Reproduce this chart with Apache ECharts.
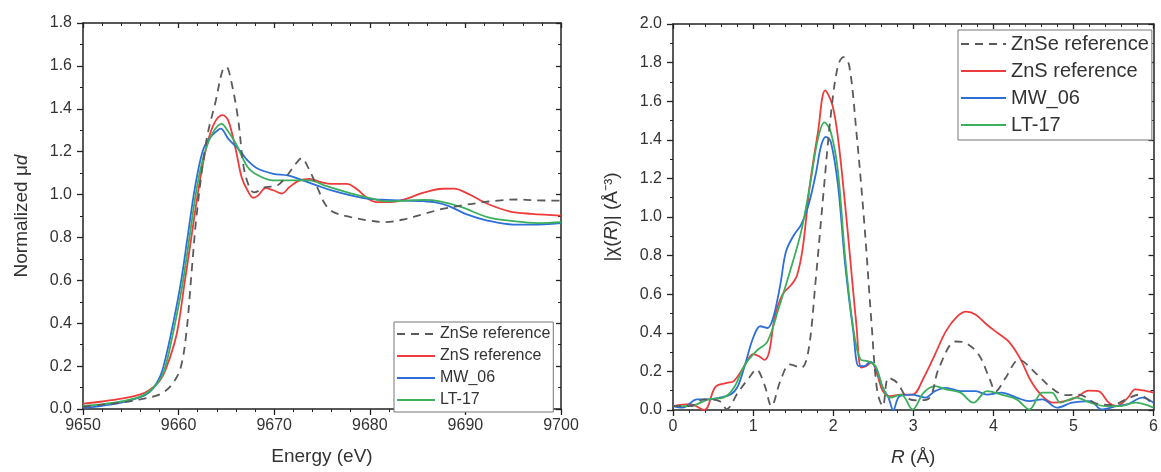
<!DOCTYPE html>
<html><head><meta charset="utf-8">
<script src="https://cdn.jsdelivr.net/npm/echarts@6/dist/echarts.min.js"></script>
<style>html,body{margin:0;padding:0;background:#fff}#c{width:1161px;height:472px}</style>
</head><body><div id="c"></div>
<script>
const seriesNames = ['ZnSe reference','ZnS reference','MW_06','LT-17'];
const seriesColors = ['#5a5a5a','#EE3B3B','#2D6FD8','#3BAF5C'];

// XANES: [Energy (eV), normalized mu d]
const xanesZnSe = [[9650,0.01],[9652,0.02],[9654,0.03],[9656,0.045],[9657.5,0.06],[9658.5,0.08],[9659.4,0.12],[9660.2,0.19],[9660.8,0.35],[9661.4,0.66],[9661.9,0.91],[9662.9,1.25],[9663.9,1.44],[9664.6,1.58],[9665.0,1.595],[9665.4,1.55],[9666.2,1.36],[9666.8,1.13],[9667.4,1.035],[9667.9,1.01],[9669.1,1.035],[9670.2,1.04],[9671.2,1.08],[9672.2,1.14],[9672.9,1.17],[9673.5,1.13],[9674.5,1.035],[9675.3,0.957],[9676.2,0.918],[9678,0.895],[9679.9,0.879],[9681.6,0.871],[9683.8,0.887],[9685.7,0.91],[9687.6,0.933],[9689.6,0.949],[9691.5,0.962],[9693.4,0.972],[9695.4,0.977],[9697.3,0.973],[9700,0.972]];
const xanesZnS = [[9650,0.025],[9652,0.035],[9654,0.048],[9656,0.068],[9657,0.09],[9658,0.13],[9658.7,0.19],[9659.8,0.35],[9660.6,0.58],[9661.4,0.82],[9662.1,1.03],[9662.9,1.22],[9663.7,1.33],[9664.6,1.37],[9665.2,1.345],[9666,1.205],[9666.6,1.08],[9667.2,1.02],[9667.8,0.985],[9668.3,0.995],[9669.1,1.03],[9669.9,1.02],[9670.8,1.005],[9671.6,1.035],[9672.6,1.065],[9673.7,1.073],[9674.9,1.058],[9676,1.05],[9677.6,1.05],[9678.6,1.027],[9679.7,0.985],[9680.7,0.965],[9682.2,0.965],[9683.8,0.98],[9685.7,1.01],[9687.6,1.027],[9688.8,1.028],[9690.3,1.003],[9692.3,0.957],[9694.6,0.922],[9696.9,0.91],[9700,0.902]];
const xanesMW06 = [[9650,0.005],[9652,0.015],[9654,0.03],[9656,0.055],[9657,0.08],[9657.7,0.12],[9658.3,0.18],[9659.2,0.35],[9660.2,0.58],[9661,0.82],[9661.7,1.03],[9662.5,1.2],[9663.2,1.26],[9664.1,1.30],[9664.4,1.307],[9665.2,1.26],[9666.4,1.205],[9667.2,1.16],[9668.3,1.12],[9669.9,1.097],[9671.4,1.089],[9673,1.066],[9674.5,1.042],[9676,1.019],[9678,0.996],[9679.9,0.98],[9681.8,0.975],[9683.8,0.972],[9685.7,0.969],[9686.9,0.963],[9688.4,0.944],[9690,0.91],[9692.3,0.879],[9695,0.86],[9696.9,0.86],[9700,0.867]];
const xanesLT17 = [[9650,0.015],[9652,0.022],[9654,0.035],[9656,0.058],[9657,0.085],[9657.8,0.12],[9658.5,0.18],[9659.4,0.35],[9660.4,0.58],[9661.2,0.82],[9661.9,1.03],[9662.7,1.19],[9663.6,1.29],[9664.5,1.33],[9665.1,1.3],[9666,1.237],[9667.2,1.13],[9668.3,1.09],[9669.9,1.066],[9672.2,1.066],[9673.7,1.066],[9675.3,1.042],[9678,1.005],[9679.9,0.985],[9681.8,0.968],[9683.8,0.972],[9685.7,0.975],[9687.2,0.969],[9689.6,0.941],[9692.3,0.895],[9695,0.876],[9697.7,0.867],[9700,0.871]];

// EXAFS FT: [R (Å), |chi(R)|]
const ftZnSe = [[0,0.02],[0.21,0.02],[0.39,0.055],[0.58,0.046],[0.67,0.005],[0.81,0.09],[0.95,0.167],[1.04,0.21],[1.14,0.133],[1.23,0.02],[1.34,0.15],[1.46,0.236],[1.6,0.219],[1.69,0.305],[1.78,0.666],[1.88,1.13],[1.97,1.527],[2.06,1.785],[2.13,1.828],[2.2,1.785],[2.29,1.44],[2.39,0.96],[2.48,0.442],[2.55,0.098],[2.62,0.02],[2.69,0.167],[2.8,0.141],[2.92,0.064],[3.05,0.05],[3.2,0.062],[3.32,0.217],[3.53,0.355],[3.66,0.346],[3.82,0.285],[3.95,0.165],[4.03,0.097],[4.15,0.165],[4.32,0.26],[4.53,0.19],[4.73,0.113],[4.9,0.077],[5.07,0.079],[5.27,0.036],[5.48,0.027],[5.65,0.053],[5.81,0.079],[5.98,0.036]];
const ftZnS = [[0,0.02],[0.21,0.03],[0.39,0.0],[0.53,0.12],[0.67,0.14],[0.76,0.15],[0.88,0.22],[1.0,0.29],[1.07,0.28],[1.14,0.26],[1.2,0.30],[1.27,0.48],[1.37,0.6],[1.48,0.65],[1.55,0.70],[1.62,0.84],[1.71,1.17],[1.81,1.44],[1.9,1.656],[1.99,1.58],[2.06,1.41],[2.15,1.06],[2.22,0.75],[2.29,0.44],[2.35,0.22],[2.41,0.227],[2.48,0.245],[2.55,0.184],[2.62,0.098],[2.71,0.072],[2.85,0.08],[2.99,0.08],[3.13,0.167],[3.27,0.287],[3.41,0.41],[3.55,0.485],[3.66,0.51],[3.78,0.494],[3.92,0.442],[4.05,0.40],[4.19,0.356],[4.33,0.27],[4.47,0.15],[4.61,0.072],[4.75,0.038],[4.89,0.046],[5.03,0.064],[5.19,0.10],[5.31,0.098],[5.44,0.038],[5.54,0.02],[5.68,0.064],[5.77,0.107],[5.91,0.098],[6.0,0.09]];
const ftMW06 = [[0,0.02],[0.12,0.012],[0.3,0.055],[0.44,0.055],[0.58,0.064],[0.72,0.08],[0.81,0.124],[0.9,0.236],[1.0,0.373],[1.09,0.434],[1.18,0.425],[1.25,0.477],[1.34,0.65],[1.41,0.82],[1.51,0.907],[1.6,0.96],[1.69,1.06],[1.78,1.217],[1.85,1.37],[1.91,1.415],[1.97,1.39],[2.06,1.165],[2.15,0.752],[2.25,0.41],[2.32,0.227],[2.39,0.227],[2.46,0.25],[2.53,0.22],[2.62,0.115],[2.69,0.064],[2.75,0.0],[2.83,0.072],[2.99,0.08],[3.15,0.064],[3.27,0.098],[3.41,0.115],[3.59,0.098],[3.78,0.098],[3.92,0.08],[4.1,0.09],[4.29,0.064],[4.45,0.046],[4.61,0.055],[4.8,0.012],[4.98,0.038],[5.21,0.046],[5.35,0.003],[5.54,0.02],[5.68,0.03],[5.86,0.064],[6.0,0.038]];
const ftLT17 = [[0,0.02],[0.21,0.02],[0.44,0.055],[0.63,0.064],[0.76,0.115],[0.9,0.236],[1.04,0.305],[1.18,0.356],[1.32,0.528],[1.46,0.718],[1.6,0.924],[1.71,1.165],[1.81,1.406],[1.89,1.49],[1.97,1.44],[2.06,1.234],[2.15,0.787],[2.25,0.425],[2.34,0.262],[2.43,0.253],[2.53,0.227],[2.62,0.115],[2.71,0.064],[2.85,0.08],[2.99,0.003],[3.13,0.09],[3.27,0.124],[3.41,0.107],[3.59,0.09],[3.75,0.038],[3.92,0.098],[4.1,0.08],[4.29,0.055],[4.45,0.003],[4.61,0.09],[4.73,0.09],[4.84,0.038],[5.03,0.064],[5.21,0.038],[5.4,0.02],[5.58,0.02],[5.77,0.038],[6.0,0.012]];

const FONT = '"Liberation Sans", Arial, sans-serif';
const AX = '#222';
const LBL = '#333';
const TITLE_SIZE = 19;
const italicRich = {i:{fontStyle:'italic', fontFamily:FONT, fontSize:TITLE_SIZE, color:LBL}};

function mainX(grid, min, max, interval, name, nameRich) {
  return {type:'value', gridIndex:grid, min, max, interval, position:'bottom',
    name, nameLocation:'middle', nameGap:38, nameTextStyle:{fontFamily:FONT, fontSize:TITLE_SIZE, color:LBL, rich:nameRich},
    axisLine:{onZero:false, lineStyle:{color:AX, width:1.5}},
    axisTick:{inside:false, length:6, lineStyle:{color:AX, width:1.3}},
    minorTick:{show:true, splitNumber:5, length:3, lineStyle:{color:AX, width:1}},
    axisLabel:{fontFamily:FONT, fontSize:16, color:LBL, margin:9, formatter:v=>String(v)},
    splitLine:{show:false}};
}
function mirrorX(grid, min, max, interval) {
  return {type:'value', gridIndex:grid, min, max, interval, position:'top',
    axisLine:{onZero:false, lineStyle:{color:AX, width:1.5}},
    axisTick:{inside:true, length:5, lineStyle:{color:AX, width:1.3}},
    minorTick:{show:true, splitNumber:5, length:3, lineStyle:{color:AX, width:1}},
    axisLabel:{show:false}, splitLine:{show:false}};
}
function mainY(grid, min, max, interval, name, nameGap, nameRich) {
  return {type:'value', gridIndex:grid, min, max, interval, position:'left',
    name, nameLocation:'middle', nameGap, nameRotate:90,
    nameTextStyle:{fontFamily:FONT, fontSize:TITLE_SIZE, color:LBL, rich:nameRich},
    axisLine:{onZero:false, lineStyle:{color:AX, width:1.5}},
    axisTick:{inside:false, length:6, lineStyle:{color:AX, width:1.3}},
    minorTick:{show:true, splitNumber:2, length:3, lineStyle:{color:AX, width:1}},
    axisLabel:{fontFamily:FONT, fontSize:16, color:LBL, margin:11, formatter:v=>v.toFixed(1)},
    splitLine:{show:false}};
}
function mirrorY(grid, min, max, interval) {
  return {type:'value', gridIndex:grid, min, max, interval, position:'right',
    axisLine:{onZero:false, lineStyle:{color:AX, width:1.5}},
    axisTick:{inside:true, length:5, lineStyle:{color:AX, width:1.3}},
    minorTick:{show:true, splitNumber:2, length:3, lineStyle:{color:AX, width:1}},
    axisLabel:{show:false}, splitLine:{show:false}};
}

const xanesData = [xanesZnSe, xanesZnS, xanesMW06, xanesLT17];
const ftData = [ftZnSe, ftZnS, ftMW06, ftLT17];

function mkSeries(data, i, axIdx) {
  return {type:'line', name:seriesNames[i], data, xAxisIndex:axIdx, yAxisIndex:axIdx,
    symbol:'none', smooth:0.35, clip:true, z: i===0 ? 5 : 3,
    lineStyle:{color:seriesColors[i], width:1.8, type: i===0 ? [8,6] : 'solid'},
    itemStyle:{color:seriesColors[i]}};
}

const series = [];
xanesData.forEach((d,i)=>series.push(mkSeries(d,i,0)));
ftData.forEach((d,i)=>series.push(mkSeries(d,i,2)));

const option = {
  animation:false,
  backgroundColor:'#fff',
  grid:[
    {left:83, right:600, top:23, bottom:63},
    {left:673, right:6, top:24, bottom:60}
  ],
  xAxis:[
    mainX(0, 9650, 9700, 10, 'Energy (eV)'),
    mirrorX(0, 9650, 9700, 10),
    mainX(1, 0, 6, 1, '{i|R} (Å)', italicRich),
    mirrorX(1, 0, 6, 1)
  ],
  yAxis:[
    mainY(0, 0, 1.8, 0.2, 'Normalized μ{i|d}', 52, italicRich),
    mirrorY(0, 0, 1.8, 0.2),
    mainY(1, 0, 2.0, 0.2, '|χ({i|R})| (Å⁻³)', 52, italicRich),
    mirrorY(1, 0, 2.0, 0.2)
  ],
  legend:[
    {data:seriesNames, orient:'vertical', left:394, top:322,
      itemWidth:38, itemHeight:14, itemGap:6, padding:[4,3,4,2],
      itemStyle:{opacity:0}, lineStyle:{width:2},
      borderColor:'#777', borderWidth:1, backgroundColor:'#fff',
      textStyle:{fontFamily:FONT, fontSize:16, color:LBL}},
    {data:seriesNames, orient:'vertical', left:958, top:30,
      itemWidth:45, itemHeight:18, itemGap:7, padding:[4,3,5,2],
      itemStyle:{opacity:0}, lineStyle:{width:2},
      borderColor:'#777', borderWidth:1, backgroundColor:'#fff',
      textStyle:{fontFamily:FONT, fontSize:20, color:LBL}}
  ],
  series
};
const chart = echarts.init(document.getElementById('c'), null, {renderer:'canvas'});
chart.setOption(option);
</script></body></html>
